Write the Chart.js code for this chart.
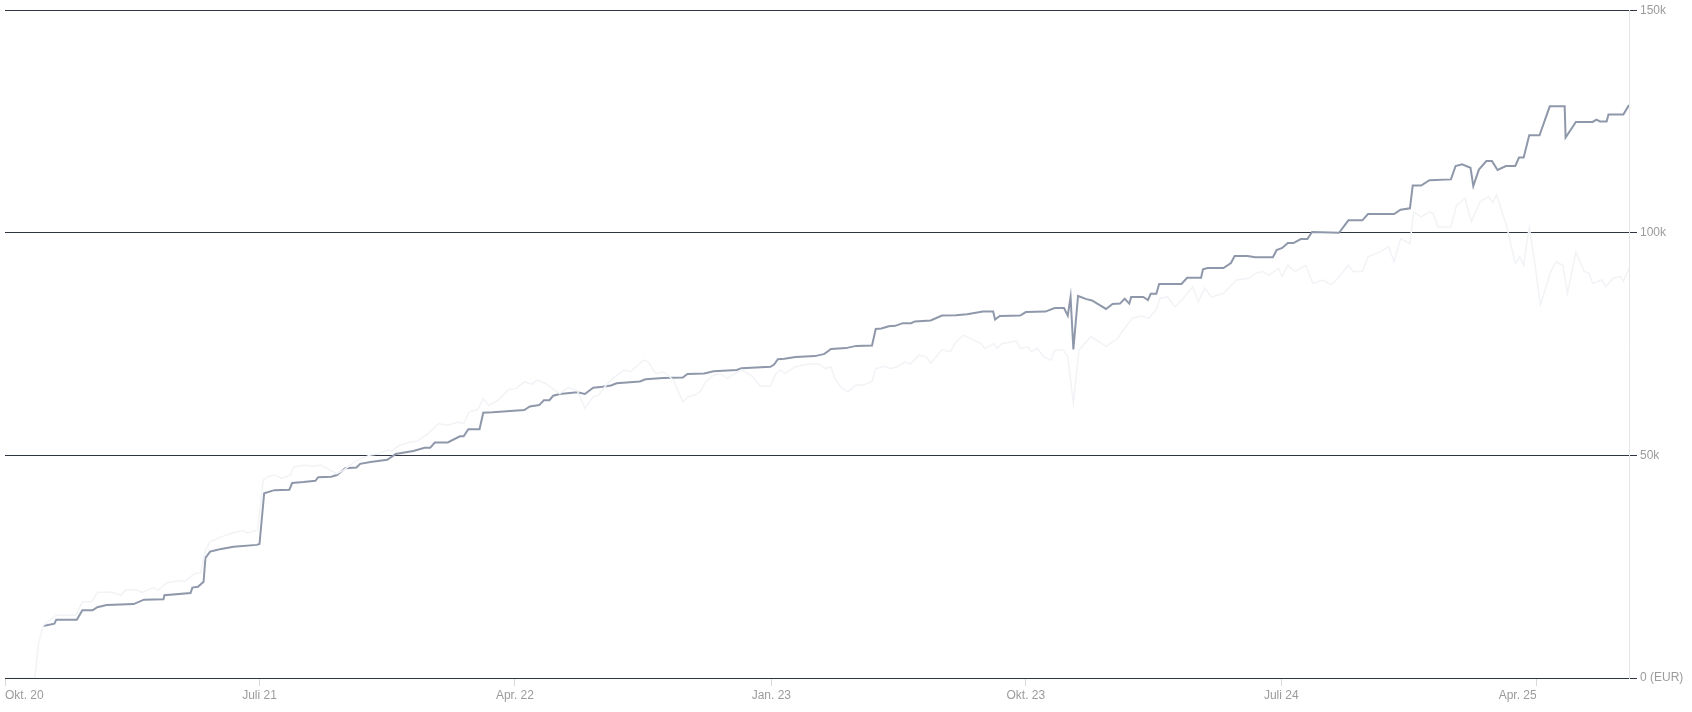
<!DOCTYPE html>
<html><head><meta charset="utf-8">
<script src="https://cdn.jsdelivr.net/npm/chart.js@4.4.1/dist/chart.umd.min.js"></script>
<style>html,body{margin:0;padding:0;background:#fff;}#wrap{width:1692px;height:712px;position:relative;}</style>
</head><body><div id="wrap"><canvas id="c"></canvas></div>
<script>
// Depot value (thousand EUR) - main series
const mainDates = ['2020-11-11','2020-11-23','2020-11-25','2020-12-17','2020-12-23','2021-01-03','2021-01-08','2021-01-18','2021-02-16','2021-02-27','2021-03-20','2021-03-21','2021-04-18','2021-04-20','2021-04-26','2021-05-02','2021-05-04','2021-05-09','2021-05-15','2021-05-21','2021-06-03','2021-06-28','2021-07-01','2021-07-06','2021-07-17','2021-08-02','2021-08-05','2021-08-17','2021-08-30','2021-09-02','2021-09-16','2021-09-22','2021-10-01','2021-10-13','2021-10-17','2021-10-28','2021-11-15','2021-11-24','2021-12-13','2021-12-25','2021-12-31','2022-01-05','2022-01-19','2022-02-01','2022-02-05','2022-02-10','2022-02-22','2022-02-26','2022-03-08','2022-04-11','2022-04-17','2022-04-27','2022-05-02','2022-05-08','2022-05-12','2022-05-19','2022-06-07','2022-06-15','2022-06-24','2022-07-04','2022-07-13','2022-07-19','2022-08-13','2022-08-19','2022-09-07','2022-09-28','2022-10-03','2022-10-21','2022-10-31','2022-11-25','2022-11-30','2022-12-31','2023-01-04','2023-01-08','2023-01-15','2023-01-27','2023-02-17','2023-02-27','2023-03-06','2023-03-22','2023-04-02','2023-04-19','2023-04-23','2023-04-29','2023-05-07','2023-05-14','2023-05-22','2023-05-31','2023-06-04','2023-06-21','2023-07-03','2023-07-18','2023-07-30','2023-08-16','2023-08-27','2023-08-29','2023-09-03','2023-09-25','2023-10-01','2023-10-22','2023-11-01','2023-11-11','2023-11-15','2023-11-18','2023-11-21','2023-11-26','2023-12-05','2023-12-11','2023-12-26','2024-01-02','2024-01-10','2024-01-15','2024-01-20','2024-01-22','2024-02-04','2024-02-09','2024-02-12','2024-02-18','2024-02-21','2024-03-16','2024-03-22','2024-04-06','2024-04-08','2024-04-13','2024-04-30','2024-05-08','2024-05-12','2024-05-26','2024-06-03','2024-06-22','2024-06-26','2024-07-02','2024-07-08','2024-07-14','2024-07-22','2024-07-29','2024-08-03','2024-09-01','2024-09-11','2024-09-26','2024-10-02','2024-10-30','2024-11-06','2024-11-16','2024-11-19','2024-11-28','2024-12-07','2024-12-30','2025-01-04','2025-01-11','2025-01-20','2025-01-23','2025-01-29','2025-02-06','2025-02-12','2025-02-18','2025-02-27','2025-03-09','2025-03-13','2025-03-18','2025-03-24','2025-04-04','2025-04-15','2025-05-01','2025-05-02','2025-05-13','2025-05-31','2025-06-04','2025-06-08','2025-06-15','2025-06-17','2025-07-03','2025-07-09'];
const mainValues = [11.7,12.2,13.1,13.1,15.2,15.2,15.9,16.4,16.6,17.6,17.7,18.6,19.1,20.3,20.5,21.6,27.0,28.4,28.7,29.0,29.5,29.9,30.1,41.5,42.2,42.3,43.8,44.0,44.3,45.1,45.2,45.6,47.1,47.3,48.1,48.5,49.0,50.3,51.0,51.7,51.7,52.9,52.9,54.3,54.3,55.9,55.9,59.6,59.7,60.2,61.0,61.3,62.4,62.4,63.4,63.8,64.2,63.8,65.2,65.4,65.7,66.2,66.6,67.1,67.4,67.5,68.3,68.4,68.9,69.2,69.6,69.9,70.4,71.6,71.7,72.1,72.3,72.8,73.9,74.1,74.6,74.7,78.4,78.5,79.0,79.1,79.7,79.7,80.1,80.3,81.4,81.5,81.7,82.3,82.3,80.5,81.3,81.4,82.2,82.3,83.1,83.1,81.4,85.6,73.8,85.8,85.1,84.8,82.9,84.0,84.1,85.2,84.1,85.6,85.6,84.9,86.3,86.3,88.5,88.5,89.9,89.9,91.8,92.1,92.1,93.2,94.8,94.8,94.5,94.5,96.1,96.6,97.7,97.7,98.6,98.6,100.2,100.0,102.8,102.8,104.2,104.2,105.2,105.5,110.6,110.6,111.8,112.0,115.0,115.4,114.6,110.5,114.2,116.1,116.1,114.1,115.0,115.0,116.9,116.9,121.9,121.9,128.4,128.4,121.4,124.9,124.9,125.4,125.0,125.0,126.6,126.6,128.7];

// Comparison series (thousand EUR) - faint line
const refDates = ['2020-10-01','2020-11-02','2020-11-06','2020-11-11','2020-11-25','2020-12-16','2020-12-23','2021-01-02','2021-01-08','2021-01-22','2021-02-02','2021-02-08','2021-02-19','2021-02-25','2021-03-09','2021-03-14','2021-03-24','2021-04-06','2021-04-12','2021-04-22','2021-04-29','2021-05-04','2021-05-09','2021-05-21','2021-06-01','2021-06-13','2021-06-18','2021-06-29','2021-07-05','2021-07-10','2021-07-17','2021-07-25','2021-08-03','2021-08-07','2021-08-17','2021-08-28','2021-09-05','2021-09-15','2021-09-22','2021-09-30','2021-10-13','2021-10-28','2021-11-05','2021-11-15','2021-11-20','2021-11-28','2021-12-10','2021-12-17','2021-12-29','2022-01-09','2022-01-19','2022-01-30','2022-02-05','2022-02-11','2022-02-20','2022-02-26','2022-03-04','2022-03-14','2022-03-25','2022-04-02','2022-04-11','2022-04-19','2022-04-25','2022-05-04','2022-05-19','2022-05-28','2022-06-07','2022-06-15','2022-06-24','2022-06-30','2022-07-08','2022-07-15','2022-07-27','2022-08-03','2022-08-17','2022-08-22','2022-08-30','2022-09-07','2022-09-12','2022-09-18','2022-09-28','2022-10-04','2022-10-12','2022-10-17','2022-10-23','2022-10-31','2022-11-07','2022-11-15','2022-11-23','2022-11-30','2022-12-12','2022-12-20','2022-12-31','2023-01-06','2023-01-11','2023-01-15','2023-01-27','2023-02-11','2023-02-21','2023-02-28','2023-03-06','2023-03-10','2023-03-18','2023-03-24','2023-04-02','2023-04-10','2023-04-19','2023-04-23','2023-05-03','2023-05-09','2023-05-17','2023-05-24','2023-05-30','2023-06-08','2023-06-16','2023-06-21','2023-07-03','2023-07-12','2023-07-18','2023-07-26','2023-08-06','2023-08-14','2023-08-18','2023-08-28','2023-08-31','2023-09-05','2023-09-21','2023-09-25','2023-10-03','2023-10-07','2023-10-13','2023-10-20','2023-10-28','2023-11-01','2023-11-10','2023-11-15','2023-11-21','2023-11-27','2023-12-10','2023-12-26','2024-01-07','2024-01-23','2024-02-02','2024-02-10','2024-02-18','2024-02-22','2024-03-01','2024-03-09','2024-03-18','2024-03-28','2024-04-03','2024-04-10','2024-04-17','2024-04-30','2024-05-14','2024-05-28','2024-06-03','2024-06-11','2024-06-18','2024-06-28','2024-07-02','2024-07-08','2024-07-16','2024-07-27','2024-08-04','2024-08-14','2024-08-24','2024-09-01','2024-09-11','2024-09-16','2024-09-26','2024-10-02','2024-10-15','2024-10-24','2024-10-30','2024-11-06','2024-11-16','2024-11-20','2024-11-28','2024-12-07','2024-12-11','2024-12-16','2024-12-30','2025-01-05','2025-01-14','2025-01-21','2025-01-30','2025-02-08','2025-02-13','2025-02-17','2025-02-28','2025-03-09','2025-03-14','2025-03-18','2025-03-24','2025-03-30','2025-04-05','2025-04-16','2025-04-22','2025-04-29','2025-05-04','2025-05-13','2025-05-22','2025-05-27','2025-05-31','2025-06-10','2025-06-14','2025-06-22','2025-06-30','2025-07-03','2025-07-09'];
const refValues = [0,0,7.8,11.8,14.1,14.1,17.1,17.1,19.2,19.3,18.6,19.8,19.8,19.2,20.3,19.7,21.4,21.9,21.7,23.4,23.6,28.7,30.6,31.7,32.5,33.1,32.6,33.2,44.5,45.2,45.6,44.8,45.6,47.4,47.8,47.6,47.8,46.7,45.9,46.8,48.9,50.1,50.3,51.2,51.0,52.3,53.0,53.2,54.9,57.1,56.8,57.5,57.1,59.8,60.3,62.7,61.2,62.4,64.8,65.0,66.5,66.0,66.9,66.1,63.9,65.3,64.5,60.6,63.2,63.6,65.8,67.3,69.2,68.8,71.4,71.0,68.4,68.8,68.0,66.9,62.0,63.2,63.6,64.4,66.6,68.0,68.4,67.3,68.4,69.2,67.7,65.6,65.6,68.4,69.2,68.4,69.9,70.6,70.5,69.5,69.9,67.3,65.0,64.3,65.8,65.8,66.6,69.5,70.0,69.5,70.0,71.0,70.5,72.5,72.2,70.7,73.7,73.3,75.5,77.0,75.9,75.1,74.0,75.1,74.0,75.1,75.7,74.0,74.4,73.3,74.1,72.2,71.4,73.7,73.7,72.2,61.7,73.7,76.7,74.5,76.2,80.8,81.3,80.8,82.8,85.3,85.6,83.4,85.3,87.9,84.5,87.6,85.6,86.4,89.4,89.8,90.9,91.3,90.5,92.0,90.2,92.7,91.3,92.7,88.6,89.4,88.3,90.2,92.7,91.3,91.3,94.6,95.7,96.9,93.5,98.7,97.6,104.7,103.6,104.7,104.3,101.3,101.3,106.2,107.7,102.5,106.9,108.1,106.9,108.5,101.3,93.1,94.6,92.7,101.3,93.1,83.8,91.3,93.5,92.7,86.4,95.7,91.3,90.9,88.6,89.4,87.9,89.8,90.2,89.1,92.0];

const xRange = ['2020-10-01','2025-07-09'];
const tickDates = ['2020-10-01','2021-07-01','2022-04-01','2023-01-01','2023-10-01','2024-07-01','2025-04-01'];
const tickLabels = ['Okt. 20','Juli 21','Apr. 22','Jan. 23','Okt. 23','Juli 24','Apr. 25'];
const yTicks = [0,50,100,150];
const yTickLabels = ['0 (EUR)','50k','100k','150k'];

const ts = s => Date.parse(s + 'T00:00:00Z');
const toPts = (d, v) => d.map((s, i) => ({x: ts(s), y: v[i]}));

const font = {family: "'Liberation Sans', Arial, sans-serif", size: 12};
const labelColor = '#9b9b9b';

new Chart(document.getElementById('c'), {
  type: 'line',
  data: {
    datasets: [
      {data: toPts(refDates, refValues), borderColor: '#f1f3f6', borderWidth: 1.5, order: 0},
      {data: toPts(mainDates, mainValues), borderColor: '#8f98aa', borderWidth: 2, order: 1}
    ]
  },
  options: {
    responsive: true, maintainAspectRatio: false, animation: false,
    parsing: false,
    layout: {padding: {left: 5, top: 10, right: 0, bottom: 0}},
    elements: {point: {radius: 0, hoverRadius: 0}, line: {tension: 0}},
    plugins: {legend: {display: false}, tooltip: {enabled: false}},
    events: [],
    scales: {
      x: {
        type: 'linear',
        min: ts(xRange[0]), max: ts(xRange[1]),
        afterBuildTicks: s => { s.ticks = tickDates.map(d => ({value: ts(d)})); },
        afterFit: s => { s.height = 34; },
        grid: {drawOnChartArea: false, drawTicks: true, tickLength: 8, color: '#d9d9d9', lineWidth: 1},
        border: {display: false},
        ticks: {
          autoSkip: false, maxRotation: 0, align: 'inner', padding: 2,
          color: labelColor, font: font,
          callback: (v, i) => tickLabels[i]
        }
      },
      y: {
        position: 'right',
        min: 0, max: 150,
        afterBuildTicks: s => { s.ticks = yTicks.map(v => ({value: v})); },
        afterFit: s => { s.width = 63; },
        grid: {color: '#2f3641', lineWidth: 1, drawTicks: true, tickLength: 8},
        border: {display: true, color: '#e6e6e6', width: 1},
        ticks: {
          padding: 3, color: labelColor, font: font,
          callback: (v, i) => yTickLabels[i]
        }
      }
    }
  }
});
</script></body></html>
